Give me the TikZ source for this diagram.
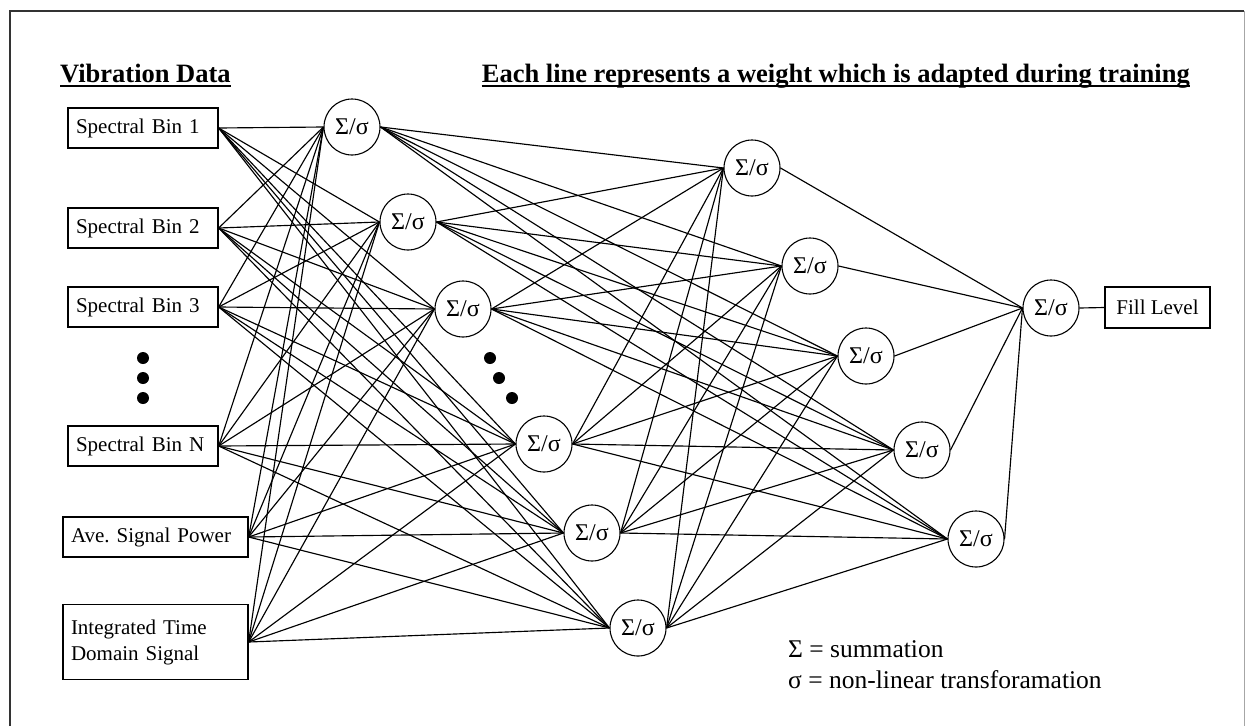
\documentclass[tikz,border=0pt]{standalone}
\usepackage{fontspec}
\setmainfont{Liberation Serif}
\begin{document}
\begin{tikzpicture}[x=1pt,y=-1pt,
  wire/.style={line width=1.15pt, black},
  inbox/.style={draw, line width=1.3pt, font=\fontsize{21}{26}\selectfont, inner xsep=8pt, inner ysep=0pt, align=left, minimum height=40pt},
  outbox/.style={draw, line width=1.3pt, font=\fontsize{21}{26}\selectfont, inner sep=0pt, minimum width=105pt, minimum height=41pt},
  neuron/.style={draw, circle, line width=1.1pt, minimum size=56pt, inner sep=0pt, font=\fontsize{24}{26}\selectfont},
  dotmark/.style={circle, fill=black, minimum size=12pt, inner sep=0pt},
  heading/.style={inner sep=0pt, font=\bfseries\fontsize{26.5}{30}\selectfont},
  legend/.style={inner sep=0pt, anchor=base west, font=\fontsize{25.5}{30}\selectfont},
]
\useasboundingbox (0,0) rectangle (1246,726);
% frame
\draw[line width=2.5pt, black!80] (10,726) -- (10,11) -- (1244,11);
\draw[line width=1pt, black!35] (1244,11) -- (1244,726);

% headings
\node[heading, anchor=base west] (t1) at (60,82) {Vibration Data};
\node[heading, anchor=base east] (t2) at (1190,82) {Each line represents a weight which is adapted during training};
\draw[line width=2pt] ([yshift=-4pt]t1.base west) -- ([yshift=-4pt]t1.base east);
\draw[line width=2pt] ([yshift=-4pt]t2.base west) -- ([yshift=-4pt]t2.base east);

% inputs
\node[inbox, text width=134pt] (i1) at (143,128) {Spectral Bin 1};
\node[inbox, text width=134pt] (i2) at (143,228) {Spectral Bin 2};
\node[inbox, text width=134pt] (i3) at (143,307) {Spectral Bin 3};
\node[inbox, text width=134pt] (i4) at (143,446) {Spectral Bin N};
\node[inbox, text width=169pt] (i5) at (155.5,537) {Ave.\ Signal Power};
\node[inbox, text width=169pt, minimum height=75pt] (i6) at (155.5,642) {Integrated Time\\Domain Signal};

\node[dotmark] (d1) at (143,358) {};
\node[dotmark] (d2) at (143,378) {};
\node[dotmark] (d3) at (143,398) {};

% hidden layer 1
\node[neuron] (h1) at (352,127) {Σ/σ};
\node[neuron] (h2) at (408,222) {Σ/σ};
\node[neuron] (h3) at (463,309) {Σ/σ};
\node[neuron] (h4) at (544,444) {Σ/σ};
\node[neuron] (h5) at (592,533) {Σ/σ};
\node[neuron] (h6) at (638,628) {Σ/σ};

\node[dotmark] (d4) at (490,358) {};
\node[dotmark] (d5) at (499,378) {};
\node[dotmark] (d6) at (512,398) {};

% hidden layer 2
\node[neuron] (g1) at (752,168) {Σ/σ};
\node[neuron] (g2) at (810,266) {Σ/σ};
\node[neuron] (g3) at (866,356) {Σ/σ};
\node[neuron] (g4) at (922,450) {Σ/σ};
\node[neuron] (g5) at (976,539) {Σ/σ};

% output
\node[neuron] (o) at (1051,308) {Σ/σ};
\node[outbox] (f) at (1157.5,307.5) {Fill Level};

% connections
\foreach \a in {i1,i2,i3,i4,i5,i6}
  \foreach \b in {h1,h2,h3,h4,h5,h6}
    \draw[wire] (\a.east) -- (\b.west);
\foreach \a in {h1,h2,h3,h4,h5,h6}
  \foreach \b in {g1,g2,g3,g4,g5}
    \draw[wire] (\a.east) -- (\b.west);
\foreach \a in {g1,g2,g3,g4,g5}
  \draw[wire] (\a.east) -- (o.west);
\draw[wire] (o.east) -- (f.west);

% legend
\node[legend] (l1) at (788,657) {Σ = summation};
\node[legend] (l2) at (788,688) {σ = non-linear transforamation};
\end{tikzpicture}
\end{document}
